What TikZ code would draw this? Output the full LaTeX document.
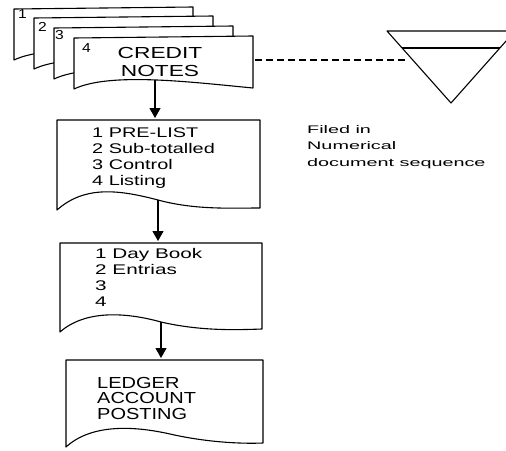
\documentclass[tikz,border=0pt]{standalone}
\usepackage{fontspec}
\setmainfont{Liberation Sans}
\usepackage{graphicx}
\usetikzlibrary{arrows.meta}
\newcommand{\wtxt}[5]{\scalebox{#1}[1]{\fontsize{#2}{#3}\selectfont\begin{tabular}[t]{@{}#4@{}}#5\end{tabular}}}
\tikzset{
  docshape/.style={draw=black, fill=white, line width=1.1pt, line join=round},
  flow/.style={-{Triangle[length=10pt,width=11pt]}, line width=1.1pt, shorten >=2pt},
  linkdash/.style={line width=1.1pt, dash pattern=on 7pt off 4pt},
  txt/.style={inner sep=0pt, anchor=base west},
  ctxt/.style={inner sep=0pt, anchor=base}
}
\begin{document}
\begin{tikzpicture}[x=1pt, y=-1pt]
\useasboundingbox (0,0) rectangle (506,450);

% stack of credit notes
\foreach \dx/\dy in {-60/-29, -40/-20, -20/-10, 0/0}{
  \begin{scope}[shift={(\dx,\dy)}]
    \path[docshape] (74,38) -- (253,36) -- (253,88)
      .. controls (190,82) and (110,72) .. (74,89) -- cycle;
  \end{scope}
}
\node[txt] (n1) at (18,18) {\wtxt{1.2}{13}{15}{l}{1}};
\node[txt] (n2) at (38,31) {\wtxt{1.2}{13}{15}{l}{2}};
\node[txt] (n3) at (55,39) {\wtxt{1.2}{13}{15}{l}{3}};
\node[txt] (n4) at (82,52) {\wtxt{1.2}{13}{15}{l}{4}};
\node[ctxt] (credit) at (160,58) {\wtxt{1.42}{16}{18.4}{c}{CREDIT\\NOTES}};

% pre-list
\path[docshape] (57,120) -- (260,120) -- (260,208)
  .. controls (230,208) and (195,210) .. (158,200)
  .. controls (120,190) and (85,185) .. (57,210) -- cycle;
\node[txt] (prelist) at (92,137) {\wtxt{1.42}{14}{16.3}{l}{1 PRE-LIST\\2 Sub-totalled\\3 Control\\4 Listing}};

% day book
\path[docshape] (60,243) -- (262,243) -- (262,329)
  .. controls (235,330) and (200,331) .. (161,322)
  .. controls (125,312) and (85,310) .. (60,332) -- cycle;
\node[txt] (daybook) at (95,258) {\wtxt{1.48}{14}{16.3}{l}{1 Day Book\\2 Entrias\\3\\4}};

% ledger
\path[docshape] (66,360) -- (263,360) -- (263,443)
  .. controls (240,444) and (205,442) .. (170,434)
  .. controls (130,425) and (90,425) .. (66,447) -- cycle;
\node[txt] (ledger) at (97,388) {\wtxt{1.25}{16}{15}{l}{LEDGER\\ACCOUNT\\POSTING}};

% connectors
\coordinate (d4b) at (155,80);
\coordinate (b1t) at (155,120);
\coordinate (b1b) at (158,200);
\coordinate (b2t) at (158,243);
\coordinate (b2b) at (161,322);
\coordinate (b3t) at (161,360);
\draw[flow] (d4b) -- (b1t);
\draw[flow] (b1b) -- (b2t);
\draw[flow] (b2b) -- (b3t);

% file triangle
\draw[line width=1.1pt, line join=round] (387,31) -- (515,31) -- (451,103) -- cycle;
\draw[line width=1.1pt] (402,48) -- (500,48);
\coordinate (d4r) at (255,60);
\coordinate (tri) at (405,60);
\draw[linkdash] (d4r) -- (tri);

\node[txt] (filed) at (307,133) {\wtxt{1.8}{11}{16.5}{l}{Filed in\\Numerical\\document sequence}};
\end{tikzpicture}
\end{document}
